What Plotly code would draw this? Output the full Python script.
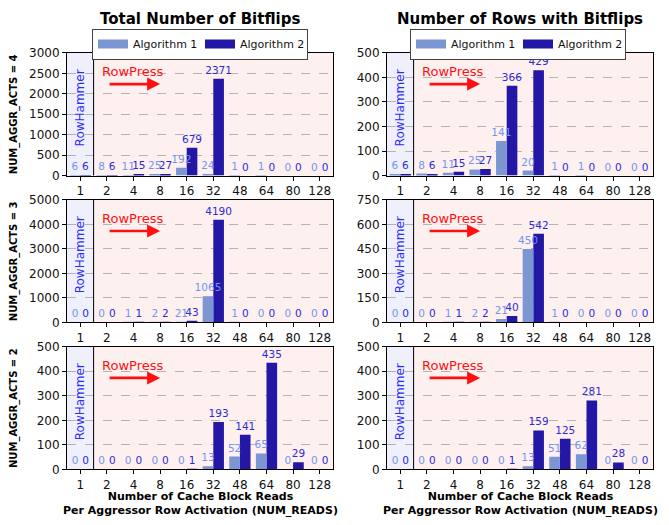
import plotly.graph_objects as go
from plotly.subplots import make_subplots

# ---------------- data ----------------
num_reads = ['1', '2', '4', '8', '16', '32', '48', '64', '80', '128']

# Total number of bitflips
total_acts4_alg1 = [6, 8, 11, 25, 192, 24, 1, 1, 0, 0]
total_acts4_alg2 = [6, 6, 15, 27, 679, 2371, 0, 0, 0, 0]
total_acts3_alg1 = [0, 0, 1, 2, 21, 1065, 1, 0, 0, 0]
total_acts3_alg2 = [0, 0, 1, 2, 43, 4190, 0, 0, 0, 0]
total_acts2_alg1 = [0, 0, 0, 0, 0, 13, 52, 65, 0, 0]
total_acts2_alg2 = [0, 0, 0, 0, 1, 193, 141, 435, 29, 0]

# Number of rows with bitflips
rows_acts4_alg1 = [6, 8, 11, 25, 141, 20, 1, 1, 0, 0]
rows_acts4_alg2 = [6, 6, 15, 27, 366, 429, 0, 0, 0, 0]
rows_acts3_alg1 = [0, 0, 1, 2, 21, 450, 1, 0, 0, 0]
rows_acts3_alg2 = [0, 0, 1, 2, 40, 542, 0, 0, 0, 0]
rows_acts2_alg1 = [0, 0, 0, 0, 0, 13, 51, 62, 0, 0]
rows_acts2_alg2 = [0, 0, 0, 0, 1, 159, 125, 281, 28, 0]

row_labels = ['NUM_AGGR_ACTS = 4', 'NUM_AGGR_ACTS = 3', 'NUM_AGGR_ACTS = 2']
col_titles = ['Total Number of Bitflips', 'Number of Rows with Bitflips']
series_names = ['Algorithm 1', 'Algorithm 2']
y_ranges = [[3000, 500], [500, 100], [5000, 1000], [750, 150], [500, 100], [500, 100]]

# ---------------- style ----------------
FONT = 'DejaVu Sans'
OFF = 8                      # page body margin of the html page
W, H = 669 - OFF, 525 - OFF
C_ALG1 = '#7b96d2'
C_ALG2 = '#2317a6'
T_ALG1 = '#7096ee'
T_ALG2 = '#2b2bd8'
BG_PRESS = '#fff0f0'
BG_HAMMER = '#eff0fc'


def px_x(p):
    return (p - OFF) / W


def px_y(p):
    return 1 - (p - OFF) / H


panels = [
    (total_acts4_alg1, total_acts4_alg2), (rows_acts4_alg1, rows_acts4_alg2),
    (total_acts3_alg1, total_acts3_alg2), (rows_acts3_alg1, rows_acts3_alg2),
    (total_acts2_alg1, total_acts2_alg2), (rows_acts2_alg1, rows_acts2_alg2),
]

x_dom_px = [(67, 333), (387, 653)]
y_dom_px = [(47, 173), (198, 324), (349, 475)]

fig = make_subplots(rows=3, cols=2)

BAR_W = 0.4
for i, (a1, a2) in enumerate(panels):
    r, c = i // 2 + 1, i % 2 + 1
    # Algorithm 2 first so that Algorithm 1 labels are drawn on top of it
    for vals, name, col, tcol, off in ((a2, series_names[1], C_ALG2, T_ALG2, 0.0),
                                       (a1, series_names[0], C_ALG1, T_ALG1, -BAR_W)):
        fig.add_trace(go.Bar(
            x=num_reads, y=vals, name=name, marker=dict(color=col, line=dict(width=0)),
            width=BAR_W, offset=off,
            text=[str(v) for v in vals], textposition='outside', constraintext='none',
            textfont=dict(family=FONT, size=10.5, color=tcol),
            outsidetextfont=dict(family=FONT, size=10.5, color=tcol),
            cliponaxis=False, showlegend=False,
        ), row=r, col=c)

# legend entries (one legend per column)
for c, lg in ((1, 'legend'), (2, 'legend2')):
    for name, col in zip(series_names, (C_ALG1, C_ALG2)):
        fig.add_trace(go.Scatter(x=[None], y=[None], mode='lines', name=name,
                                 line=dict(color=col, width=9), legend=lg,
                                 showlegend=True), row=1, col=c)

layout_axes = {}
for i in range(6):
    r, c = i // 2, i % 2
    n = '' if i == 0 else str(i + 1)
    x0, x1 = x_dom_px[c]
    yt, yb = y_dom_px[r]
    ymax, dt = y_ranges[i]
    layout_axes['xaxis' + n] = dict(
        domain=[px_x(x0), px_x(x1)], type='category', range=[-0.5, 9.5],
        showline=True, mirror=True, linecolor='black', linewidth=1,
        ticks='outside', ticklen=4, tickcolor='black', showgrid=False,
        tickfont=dict(family=FONT, size=12, color='#111'),
        anchor='y' + n, fixedrange=True)
    layout_axes['yaxis' + n] = dict(
        domain=[px_y(yb), px_y(yt)], range=[0, ymax], dtick=dt,
        showline=True, mirror=True, linecolor='black', linewidth=1,
        ticks='outside', ticklen=4, tickcolor='black',
        showgrid=True, gridcolor='#b4b4b4', griddash='dash', gridwidth=1,
        zeroline=False, tickfont=dict(family=FONT, size=12, color='#111'),
        anchor='x' + n, fixedrange=True)
fig.update_layout(**layout_axes)

shapes = []
annotations = []
for i in range(6):
    n = '' if i == 0 else str(i + 1)
    xr, yr = 'x' + n, 'y' + n
    shapes.append(dict(type='rect', xref=xr, yref=yr + ' domain', x0=-0.5, x1=0.5,
                       y0=0, y1=1, fillcolor=BG_HAMMER, line=dict(width=0), layer='below'))
    shapes.append(dict(type='line', xref=xr, yref=yr + ' domain', x0=0.5, x1=0.5,
                       y0=0, y1=1, line=dict(color='black', width=1), layer='above'))
    annotations.append(dict(text='RowHammer', xref=xr, yref=yr + ' domain', x=0, y=0.55,
                            textangle=-90, showarrow=False, xanchor='center', yanchor='middle',
                            font=dict(family=FONT, size=12, color='#2b2bff')))
    annotations.append(dict(text='RowPress', xref=xr + ' domain', yref=yr + ' domain',
                            x=0.248, y=0.85, showarrow=False, xanchor='center', yanchor='middle',
                            font=dict(family=FONT, size=13, color='#ff1010')))
    annotations.append(dict(text='', xref=xr + ' domain', yref=yr + ' domain',
                            x=0.35, y=0.746, ax=-52, ay=0, showarrow=True,
                            arrowhead=2, arrowsize=1, arrowwidth=2.6, arrowcolor='#ff1010',
                            standoff=0))

for r, lab in enumerate(row_labels):
    yt, yb = y_dom_px[r]
    annotations.append(dict(text=lab, xref='paper', yref='paper', x=px_x(14),
                            y=px_y((yt + yb) / 2), textangle=-90, showarrow=False,
                            xanchor='center', yanchor='middle',
                            font=dict(family=FONT, size=10, color='black', weight='bold')))

for c, t in enumerate(col_titles):
    x0, x1 = x_dom_px[c]
    annotations.append(dict(text=t, xref='paper', yref='paper', x=px_x((x0 + x1) / 2),
                            y=px_y(12), showarrow=False, xanchor='center', yanchor='middle',
                            font=dict(family=FONT, size=15, color='black', weight='bold')))
    annotations.append(dict(text='Number of Cache Block Reads<br>Per Aggressor Row Activation (NUM_READS)',
                            xref='paper', yref='paper', x=px_x((x0 + x1) / 2),
                            y=px_y(510), showarrow=False, xanchor='center', yanchor='middle',
                            font=dict(family=FONT, size=11, color='black', weight='bold')))

legend_common = dict(orientation='h', xanchor='center', yanchor='top', y=px_y(22),
                     bordercolor='#444', borderwidth=1, bgcolor='white',
                     font=dict(family=FONT, size=11, color='#111'),
                     itemwidth=30, entrywidth=62, tracegroupgap=0)

fig.update_layout(
    width=W, height=H, margin=dict(l=0, r=0, t=0, b=0),
    paper_bgcolor='white', plot_bgcolor=BG_PRESS,
    barmode='overlay',
    font=dict(family=FONT),
    shapes=shapes, annotations=annotations,
    legend=dict(x=px_x(200), **legend_common),
    legend2=dict(x=px_x(518), **legend_common),
)

fig.write_html('out.html')
